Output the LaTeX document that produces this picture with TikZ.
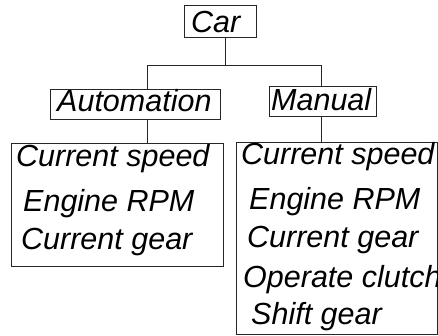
\documentclass[tikz,border=0pt]{standalone}
\usepackage{fontspec}
\setmainfont{Liberation Sans}
\begin{document}
\begin{tikzpicture}[x=1pt,y=-1pt,
  box/.style={draw=black!85,line width=0.9pt,inner sep=0pt,anchor=north west},
  lbl/.style={inner sep=0pt,anchor=base west,font=\fontsize{30.5}{36}\selectfont\itshape},
  conn/.style={draw=black!85,line width=0.9pt}]
\useasboundingbox (0,0) rectangle (438,335);
\clip (0,0) rectangle (438,335);
% boxes
\node[box,minimum width=72pt,minimum height=32pt] (carbox) at (184,5) {};
\node[box,minimum width=170pt,minimum height=30pt] (autobox) at (50,89) {};
\node[box,minimum width=107pt,minimum height=30pt] (manbox) at (269,86) {};
\node[box,minimum width=212pt,minimum height=123pt] (autolist) at (11,143) {};
\node[box,minimum width=201pt,minimum height=192pt] (manlist) at (236,142) {};
% labels
\node[lbl] (car) at (191,32) {Car};
\node[lbl] (auto) at (57,111) {Automation};
\node[lbl] (man) at (271,110) {Manual};
\node[lbl] (a1) at (16,166) {Current speed};
\node[lbl] (a2) at (23,211) {Engine RPM};
\node[lbl] (a3) at (21,249) {Current gear};
\node[lbl] (m1) at (241,164) {Current speed};
\node[lbl] (m2) at (249,209) {Engine RPM};
\node[lbl] (m3) at (247,247) {Current gear};
\node[lbl] (m4) at (243,287) {Operate clutch};
\node[lbl] (m5) at (251,324) {Shift gear};
% connectors
\coordinate (cb) at (225,37);
\coordinate (j) at (225,65);
\coordinate (ja) at (147,65);
\coordinate (jm) at (321,65);
\draw[conn] (cb) -- (j);
\draw[conn] (autobox.north -| ja) -- (ja) -- (jm) -- (manbox.north -| jm);
\draw[conn] (autobox.south -| ja) -- (autolist.north -| ja);
\draw[conn] (manbox.south -| jm) -- (manlist.north -| jm);
\end{tikzpicture}
\end{document}
